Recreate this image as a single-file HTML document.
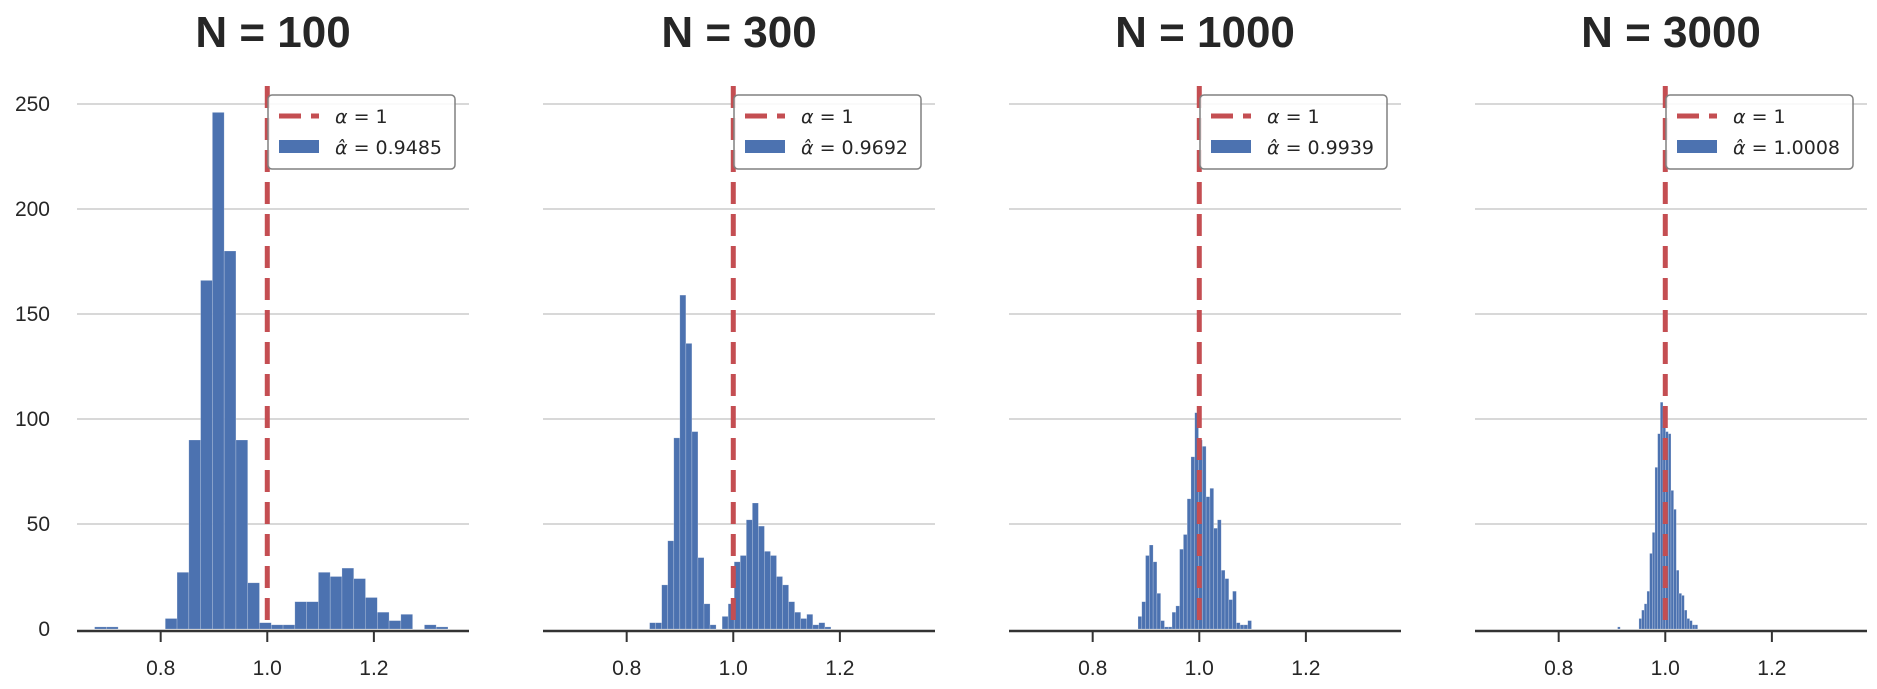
<!DOCTYPE html>
<html><head><meta charset="utf-8"><style>
html,body{margin:0;padding:0;background:#fff;}
svg{display:block;font-family:"Liberation Sans",sans-serif;}
</style></head><body>
<svg id="chart" width="1877" height="689" viewBox="0 0 1877 689"></svg>
<script>
const titles = ["N = 100", "N = 300", "N = 1000", "N = 3000"];
const estimates = ["0.9485", "0.9692", "0.9939", "1.0008"];
const binStarts = [0.676, 0.843, 0.885, 0.9105];
const binWidths = [0.0221, 0.01134, 0.0071, 0.00501];
const counts100 = [1,1,0,0,0,0,5,27,90,166,246,180,90,22,3,2,2,13,13,27,25,29,24,15,8,4,7,0,2,1];
const counts300 = [3,3,21,42,91,159,136,94,34,12,2,0,6,12,32,35,52,60,49,37,35,25,21,13,8,5,7,2,3,1];
const counts1000 = [6,13,35,40,32,17,4,1,1,8,11,38,45,62,82,103,90,87,63,67,48,52,28,24,14,18,3,2,2,4];
const counts3000 = [1,0,0,0,0,0,0,0,5,9,12,18,36,46,77,93,108,100,94,93,66,57,28,17,16,9,5,4,2,2];
const allCounts = [counts100, counts300, counts1000, counts3000];
const yTicks = [0, 50, 100, 150, 200, 250];
const xTicks = [0.8, 1.0, 1.2];
const trueAlpha = 1.0;

const NS = "http://www.w3.org/2000/svg";
const svg = document.getElementById("chart");
const panelW = 392, xMin = 0.643, xScale = 533;
const y0 = 629, yScale = 2.1;
function px(i, v){ return 77 + 466*i + (v - xMin)*xScale; }
function py(v){ return y0 - v*yScale; }
function mk(tag, attrs, parent){ const e=document.createElementNS(NS,tag); for(const k in attrs) e.setAttribute(k, attrs[k]); (parent||svg).appendChild(e); return e; }

for (let i=0;i<4;i++){
  const L = 77 + 466*i;
  const g = mk("g", {});
  
  
  yTicks.forEach(t=>{
    if (t===0) return;
    const gl = mk("line",{x1:L,x2:L+panelW,y1:py(t),y2:py(t),stroke:"#cccccc","stroke-width":1.5},g);
    
    
  });
  if (i===0){
    yTicks.forEach(t=>{
      const tx = mk("text",{x:50,y:py(t)+7,"text-anchor":"end","font-size":21,fill:"#262626"},g);
      tx.textContent = t;
      
      
    });
  }
  const c = allCounts[i];
  c.forEach((v,k)=>{
    if (v<=0) return;
    const xa = px(i, binStarts[i] + k*binWidths[i]);
    const xb = px(i, binStarts[i] + (k+1)*binWidths[i]);
    const r = mk("rect",{x:xa,y:py(v),width:xb-xa,height:v*yScale,fill:"#4c72b0",stroke:"rgba(255,255,255,0.35)","stroke-width":0.6},g);
    
    
  });
  const ax = mk("line",{x1:L,x2:L+panelW,y1:631,y2:631,stroke:"#333","stroke-width":2.5},g);
  
  
  xTicks.forEach(t=>{
    const x = px(i,t);
    const tk = mk("line",{x1:x,x2:x,y1:631,y2:642,stroke:"#333","stroke-width":2},g);
    
    
    const tl = mk("text",{x:x,y:675,"text-anchor":"middle","font-size":21,fill:"#262626"},g);
    tl.textContent = t.toFixed(1);
    
    
  });
  const rx = px(i, trueAlpha);
  const rl = mk("line",{x1:rx,x2:rx,y1:86,y2:629,stroke:"#c44e52","stroke-width":5,"stroke-dasharray":"22 10"},g);
  
  
  const ti = mk("text",{x:L+196,y:47,"text-anchor":"middle","font-size":44,"font-weight":"bold",fill:"#262626"},g);
  ti.textContent = titles[i];
  
  
  const lg = mk("g",{},g);
  
  
  const lx = L + 191;
  mk("rect",{x:lx,y:95,width:187,height:74,rx:4,fill:"rgba(255,255,255,0.85)",stroke:"#808080","stroke-width":1.5},lg);
  const e1 = mk("line",{x1:lx+11,x2:lx+51,y1:116,y2:116,stroke:"#c44e52","stroke-width":5,"stroke-dasharray":"22 10"},lg);
  
  
  const t1 = mk("text",{x:lx+67,y:123,"font-size":19,fill:"#262626","font-family":"DejaVu Sans, sans-serif"},lg);
  t1.innerHTML = '<tspan font-style="italic">α</tspan> = 1';
  const e2 = mk("rect",{x:lx+11,y:140,width:40,height:13,fill:"#4c72b0"},lg);
  
  
  const t2 = mk("text",{x:lx+67,y:154,"font-size":19,fill:"#262626","font-family":"DejaVu Sans, sans-serif"},lg);
  t2.innerHTML = '<tspan font-style="italic">α̂</tspan> = ' + estimates[i];
}
</script>
</body></html>
